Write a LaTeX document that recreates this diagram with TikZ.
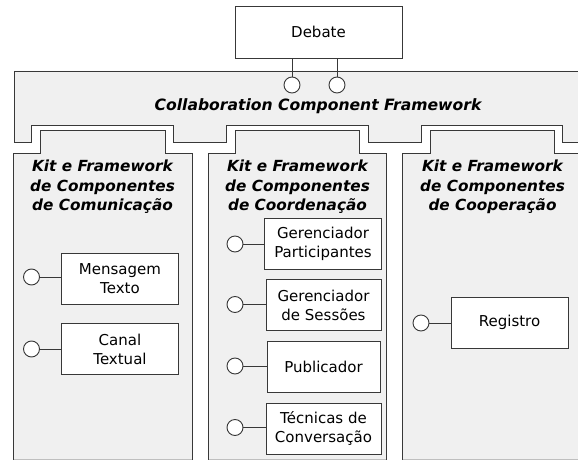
\documentclass[tikz,border=0pt]{standalone}
\usepackage{fontspec}
\setmainfont{DejaVu Sans}
\begin{document}
\begin{tikzpicture}[x=1pt,y=-1pt,
  line/.style={draw=black!78,line width=0.9pt},
  panel/.style={line,fill=black!6},
  comp/.style={line,fill=white,minimum width=117pt,minimum height=51pt,inner sep=0pt,align=center,
    font=\fontsize{15}{19}\selectfont},
  port/.style={line,fill=white,circle,minimum size=16pt,inner sep=0pt},
  kittitle/.style={align=center,font=\fontsize{15.3}{19.5}\selectfont\bfseries\itshape},
  wire/.style={draw=black!78,line width=0.9pt}]
\useasboundingbox (0,0) rectangle (578,460);
\clip (0,0) rectangle (578,460);
\fill[white] (0,0) rectangle (578,460);
% framework
\path[panel] (14,71) -- (600,71) -- (600,142) -- (562,142) -- (562,125) -- (421,125) -- (421,142)
  -- (368,142) -- (368,125) -- (226,125) -- (226,142) -- (173,142) -- (173,125) -- (31,125)
  -- (31,142) -- (14,142) -- cycle;
\node[kittitle,font=\fontsize{15.6}{19.5}\selectfont\bfseries\itshape] (fw) at (318,106) {Collaboration Component Framework};
% kit panels
\path[panel] (13,470) -- (13,153) -- (40,153) -- (40,130) -- (165,130) -- (165,153) -- (192,153) -- (192,470);
\path[panel] (208,470) -- (208,153) -- (235,153) -- (235,130) -- (359,130) -- (359,153) -- (386,153) -- (386,470);
\path[panel] (402,470) -- (402,153) -- (430,153) -- (430,130) -- (554,130) -- (554,153) -- (600,153) -- (600,470);
\draw[black!25,line width=0.8pt] (13.5,459.5) -- (191.5,459.5) (208.5,459.5) -- (385.5,459.5) (402.5,459.5) -- (578,459.5);
\node[kittitle] (k1) at (102.5,187) {Kit e Framework\\de Componentes\\de Comunicação};
\node[kittitle] (k2) at (297.5,187) {Kit e Framework\\de Componentes\\de Coordenação};
\node[kittitle] (k3) at (492.5,187) {Kit e Framework\\de Componentes\\de Cooperação};
% debate
\node[comp,minimum width=167pt,minimum height=52pt] (debate) at (318.5,32) {Debate};
\node[port] (d1) at (292,85) {};
\node[port] (d2) at (337,85) {};
\draw[wire] (d1.north) -- (d1.north |- debate.south);
\draw[wire] (d2.north) -- (d2.north |- debate.south);
% components
\node[comp] (msg) at (120,278.5) {Mensagem\\Texto};
\node[comp] (canal) at (120,349) {Canal\\Textual};
\node[comp] (gp) at (323,243.5) {Gerenciador\\Participantes};
\node[comp,minimum width=115pt] (gs) at (323.5,305) {Gerenciador\\de Sessões};
\node[comp,minimum width=113pt] (pub) at (323.5,367) {Publicador};
\node[comp,minimum width=115pt] (tec) at (323.5,428.5) {Técnicas de\\Conversação};
\node[comp] (reg) at (509.5,322.5) {Registro};
\node[port] (pmsg) at (31.5,277) {};
\node[port] (pcanal) at (31.5,349) {};
\node[port] (pgp) at (235,244) {};
\node[port] (pgs) at (235,304.5) {};
\node[port] (ppub) at (235,366) {};
\node[port] (ptec) at (235,427.5) {};
\node[port] (preg) at (421,323) {};
\draw[wire] (pmsg.east) -- (pmsg.east -| msg.west);
\draw[wire] (pcanal.east) -- (pcanal.east -| canal.west);
\draw[wire] (pgp.east) -- (pgp.east -| gp.west);
\draw[wire] (pgs.east) -- (pgs.east -| gs.west);
\draw[wire] (ppub.east) -- (ppub.east -| pub.west);
\draw[wire] (ptec.east) -- (ptec.east -| tec.west);
\draw[wire] (preg.east) -- (preg.east -| reg.west);
\end{tikzpicture}
\end{document}
